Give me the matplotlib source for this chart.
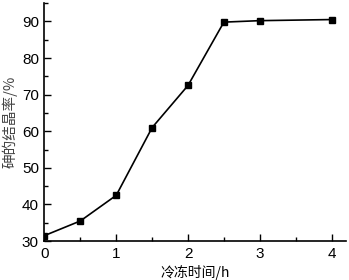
import matplotlib
matplotlib.use("Agg")
import matplotlib.pyplot as plt
from matplotlib.ticker import MultipleLocator

# freezing time (h) and arsenic crystallization rate (%)
hours = [0, 0.5, 1, 1.5, 2, 2.5, 3, 4]
rate = [31.5, 35.5, 42.5, 61.0, 72.5, 89.8, 90.2, 90.5]

x_ticks = [0, 1, 2, 3, 4]
y_ticks = [30, 40, 50, 60, 70, 80, 90]

cjk = ['Noto Sans CJK SC', 'DejaVu Sans']

fig = plt.figure(figsize=(3.49, 2.8), dpi=100)
ax = fig.add_axes([0.1275, 0.139, 0.8635, 0.85])

ax.plot(hours, rate, color='black', linewidth=1.2,
        marker='s', markersize=4.5, markerfacecolor='black')

ax.set_xlim(0, 4.2)
ax.set_ylim(30, 95)
ax.set_xticks(x_ticks)
ax.set_yticks(y_ticks)
ax.xaxis.set_minor_locator(MultipleLocator(0.5))
ax.yaxis.set_minor_locator(MultipleLocator(5))

for side in ['top', 'right']:
    ax.spines[side].set_visible(False)
for side in ['left', 'bottom']:
    ax.spines[side].set_linewidth(1.2)

ax.tick_params(which='both', direction='in', width=1.0)
ax.tick_params(which='major', length=5, labelsize=11, pad=4)
ax.tick_params(which='minor', length=3)
for lbl in ax.get_xticklabels() + ax.get_yticklabels():
    lbl.set_fontfamily('Liberation Sans')

ax.set_xlabel('冷冻时间/h', family=cjk, fontsize=10, labelpad=3)
ax.set_ylabel('砷的结晶率/%', family=cjk, fontsize=10.5, color='#444444', labelpad=3)

fig.savefig('out.png', dpi=100)
